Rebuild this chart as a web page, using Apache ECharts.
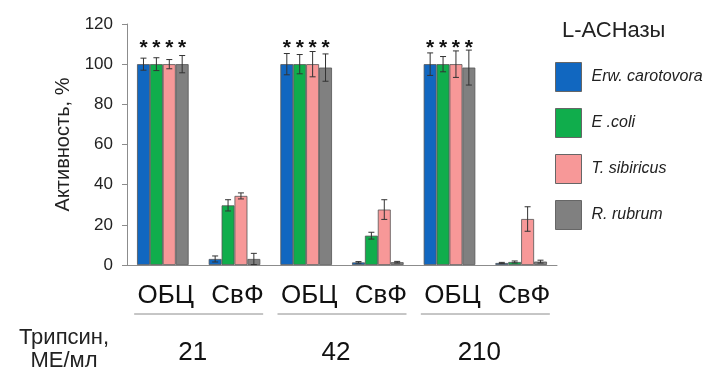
<!DOCTYPE html>
<html>
<head>
<meta charset="utf-8">
<script src="https://cdn.jsdelivr.net/npm/echarts@6/dist/echarts.min.js"></script>
<style>
html,body{margin:0;padding:0;background:#fff;}
#chart{width:705px;height:371px;}
</style>
</head>
<body>
<div id="chart"></div>
<script>
// data
var categories = ['ОБЦ', 'СвФ', 'ОБЦ', 'СвФ', 'ОБЦ', 'СвФ'];
var trypsin = ['21', '42', '210'];
var seriesNames = ['Erw. carotovora', 'E .coli', 'T. sibiricus', 'R. rubrum'];
var colors = ['#1167c0', '#10ad4c', '#f79898', '#808080'];

var erwValues = [100, 3.0, 100, 1.3, 100, 1.0];
var erwErrors = [3.0, 1.5, 5.3, 0.4, 5.6, 0.3];
var coliValues = [100, 29.7, 100, 14.6, 100, 1.5];
var coliErrors = [3.2, 2.8, 4.8, 1.7, 3.8, 0.5];
var sibValues = [100, 34.4, 100, 27.6, 100, 22.9];
var sibErrors = [2.3, 1.5, 6.3, 4.9, 6.6, 6.1];
var rubValues = [100, 3.0, 98.3, 1.4, 98.3, 1.7];
var rubErrors = [4.3, 2.8, 6.8, 0.4, 8.7, 0.7];

var starLevel = 110;
var starCats = [0, 2, 4];

var allValues = [erwValues, coliValues, sibValues, rubValues];
var allErrors = [erwErrors, coliErrors, sibErrors, rubErrors];
var catGap = 0.28;
var FONT = 'Liberation Sans';

var myChart = echarts.init(document.getElementById('chart'));

function barOffset(api, k) {
	var catW = api.size([1, 0])[0];
	var bw = catW * (1 - catGap) / 4;
	return { off: (k - 1.5) * bw, bw: bw };
}

function makeErrorRender(k) {
	return function(params, api) {
		var c = api.value(0);
		var v = api.value(1);
		var e = api.value(2);
		var o = barOffset(api, k);
		var top = api.coord([c, v + e]);
		var bot = api.coord([c, v - e < 0 ? 0 : v - e]);
		var x = top[0] + o.off;
		var cap = 3;
		var st = { stroke: '#333', lineWidth: 1 };
		return {
			type: 'group',
			children: [
				{ type: 'line', shape: { x1: x, y1: top[1], x2: x, y2: bot[1] }, style: st },
				{ type: 'line', shape: { x1: x - cap, y1: top[1], x2: x + cap, y2: top[1] }, style: st },
				{ type: 'line', shape: { x1: x - cap, y1: bot[1], x2: x + cap, y2: bot[1] }, style: st }
			]
		};
	};
}

var series = [];
for (var k = 0; k < 4; k++) {
	series.push({
		name: seriesNames[k],
		type: 'bar',
		data: allValues[k],
		barGap: 0,
		barCategoryGap: (catGap * 100) + '%',
		itemStyle: { color: colors[k], borderColor: '#555', borderWidth: 0.8 }
	});
}
for (var k = 0; k < 4; k++) {
	var d = [];
	for (var i = 0; i < categories.length; i++) {
		d.push([i, allValues[k][i], allErrors[k][i]]);
	}
	series.push({
		type: 'custom',
		renderItem: makeErrorRender(k),
		data: d,
		z: 5,
		silent: true,
		encode: { x: 0, y: 1 }
	});
}
// stars
var starData = [];
for (var i = 0; i < starCats.length; i++) starData.push([starCats[i], starLevel]);
series.push({
	type: 'custom',
	data: starData,
	silent: true,
	encode: { x: 0, y: 1 },
	renderItem: function(params, api) {
		var kids = [];
		for (var k = 0; k < 4; k++) {
			var o = barOffset(api, k);
			var p = api.coord([api.value(0), api.value(1)]);
			kids.push({
				type: 'text',
				style: {
					text: '*', x: p[0] + o.off, y: p[1] + 4,
					fontSize: 21, fontWeight: 'bold', fontFamily: FONT,
					fill: '#111', align: 'center', verticalAlign: 'middle'
				}
			});
		}
		return { type: 'group', children: kids };
	}
});
// underlines for each trypsin group
series.push({
	type: 'custom',
	xAxisIndex: 1,
	data: [[0, 0], [1, 0], [2, 0]],
	silent: true,
	clip: false,
	encode: { x: 0, y: 1 },
	renderItem: function(params, api) {
		var p = api.coord([api.value(0), 0]);
		var w = api.size([1, 0])[0];
		return {
			type: 'line',
			shape: { x1: p[0] - w * 0.45, y1: p[1] + 49, x2: p[0] + w * 0.45, y2: p[1] + 49 },
			style: { stroke: '#8c8c8c', lineWidth: 1 }
		};
	}
});

var option = {
	animation: false,
	title: [
		{
			text: 'L-АСНазы', left: 557, top: 15,
			textStyle: { fontSize: 22, fontWeight: 'normal', color: '#222', fontFamily: FONT }
		},
		{
			text: 'Трипсин,\nМЕ/мл', left: 59, top: 321, textAlign: 'center',
			textStyle: { fontSize: 22, fontWeight: 'normal', color: '#222', lineHeight: 23, fontFamily: FONT }
		}
	],
	legend: {
		orient: 'vertical',
		left: 555, top: 62, padding: 0,
		itemWidth: 26, itemHeight: 29, itemGap: 16,
		icon: 'rect',
		data: seriesNames,
		itemStyle: { borderColor: '#666', borderWidth: 1 },
		textStyle: { fontSize: 16, fontStyle: 'italic', color: '#222', fontFamily: FONT, padding: [0, 0, 0, 5] }
	},
	grid: { left: 127, right: 148, top: 24, bottom: 106 },
	xAxis: [
		{
			type: 'category',
			data: categories,
			axisLine: { lineStyle: { color: '#8c8c8c' } },
			axisTick: { length: 5, lineStyle: { color: '#8c8c8c' } },
			axisLabel: { interval: 0, hideOverlap: false, fontSize: 26, color: '#111', margin: 18, padding: [0, 0, 0, 6], fontFamily: FONT }
		},
		{
			type: 'category',
			data: trypsin,
			position: 'bottom',
			axisLine: { show: false },
			axisTick: { show: false },
			axisLabel: { interval: 0, fontSize: 26, color: '#111', margin: 75, padding: [0, 12, 0, 0], fontFamily: FONT }
		}
	],
	yAxis: {
		type: 'value',
		min: 0, max: 120, interval: 20,
		name: 'Активность, %',
		nameLocation: 'middle',
		nameGap: 38,
		nameTextStyle: { fontSize: 20, color: '#222', fontFamily: FONT },
		axisLine: { show: true, lineStyle: { color: '#8c8c8c' } },
		axisTick: { show: true, length: 5, lineStyle: { color: '#8c8c8c' } },
		axisLabel: { fontSize: 17, color: '#222', margin: 14, fontFamily: FONT },
		splitLine: { show: false }
	},
	series: series
};
myChart.setOption(option);
</script>
</body>
</html>
